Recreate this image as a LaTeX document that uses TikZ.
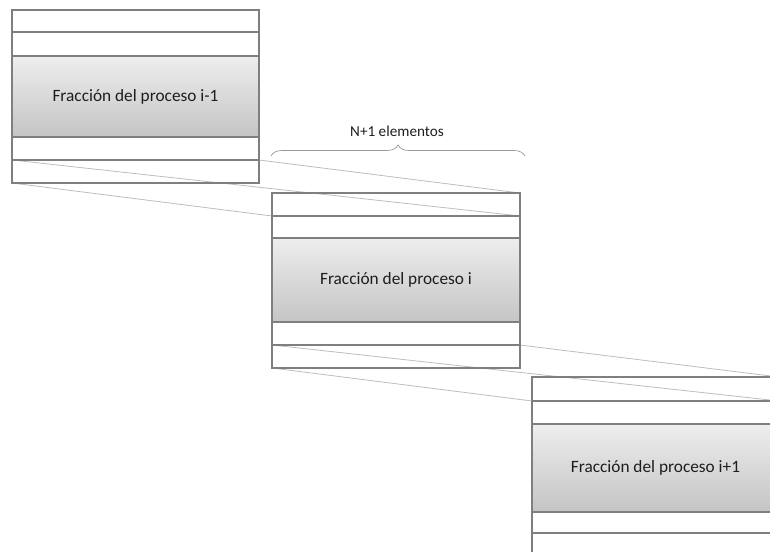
\documentclass[tikz,border=0pt]{standalone}
\usepackage{fontspec}
\setmainfont{Carlito}
\usetikzlibrary{decorations.pathreplacing,backgrounds}
\definecolor{edge}{HTML}{7F7F7F}
\definecolor{linkgray}{HTML}{BDBDBD}
\definecolor{ink}{HTML}{1E1E1E}
\definecolor{shadetop}{HTML}{EEEEEE}
\definecolor{shadebot}{HTML}{C4C4C4}
\tikzset{
  cell/.style={draw=edge, line width=1.3pt, minimum width=247pt,
    inner sep=0pt, outer sep=0pt, anchor=north west},
  body/.style={cell, top color=shadetop, bottom color=shadebot,
    font=\fontsize{17.3}{20}\selectfont, text=ink, anchor=north west},
  ghostlink/.style={draw=linkgray, line width=0.8pt},
  bracket/.style={draw=edge!80, line width=0.7pt, decorate,
    decoration={brace, amplitude=11pt}},
  caption/.style={font=\fontsize{15.2}{18}\selectfont, text=ink}
}
\begin{document}
\begin{tikzpicture}[x=1pt, y=-1pt]
  \useasboundingbox (0,0) rectangle (770,551);
  \clip (0,0) rectangle (770,551);

  % process i-1
  \node[cell, minimum height=22pt] (a1) at (12,10) {};
  \node[cell, minimum height=24pt] (a2) at (a1.south west) {};
  \node[body, minimum height=81pt] (a3) at (a2.south west) {Fracción del proceso i-1};
  \node[cell, minimum height=23pt] (a4) at (a3.south west) {};
  \node[cell, minimum height=23pt] (a5) at (a4.south west) {};

  % process i
  \node[cell, minimum width=248pt, minimum height=23pt] (b1) at (272,193) {};
  \node[cell, minimum width=248pt, minimum height=22pt] (b2) at (b1.south west) {};
  \node[body, minimum width=248pt, minimum height=84pt] (b3) at (b2.south west) {Fracción del proceso i};
  \node[cell, minimum width=248pt, minimum height=23pt] (b4) at (b3.south west) {};
  \node[cell, minimum width=248pt, minimum height=23pt] (b5) at (b4.south west) {};

  % process i+1
  \node[cell, minimum height=24pt] (c1) at (532,377) {};
  \node[cell, minimum height=23pt] (c2) at (c1.south west) {};
  \node[body, minimum height=88pt] (c3) at (c2.south west) {Fracción del proceso i+1};
  \node[cell, minimum height=21pt] (c4) at (c3.south west) {};
  \node[cell, minimum height=23pt] (c5) at (c4.south west) {};

  % overlap of the last row with the next process
  \begin{scope}[on background layer]
    \draw[ghostlink] (a5.north east) -- (b1.north east);
    \draw[ghostlink] (a5.north west) -- (b1.south east);
    \draw[ghostlink] (a5.south west) -- (b1.south west);
    \draw[ghostlink] (b5.north east) -- (c1.north east);
    \draw[ghostlink] (b5.north west) -- (c1.south east);
    \draw[ghostlink] (b5.south west) -- (c1.south west);
  \end{scope}

  % size of the block
  \coordinate (br1) at (271,156);
  \coordinate (br2) at (525,156);
  \draw[bracket] (br1) -- (br2);
  \node[caption] (lbl) at (397,131) {N+1 elementos};
\end{tikzpicture}
\end{document}
